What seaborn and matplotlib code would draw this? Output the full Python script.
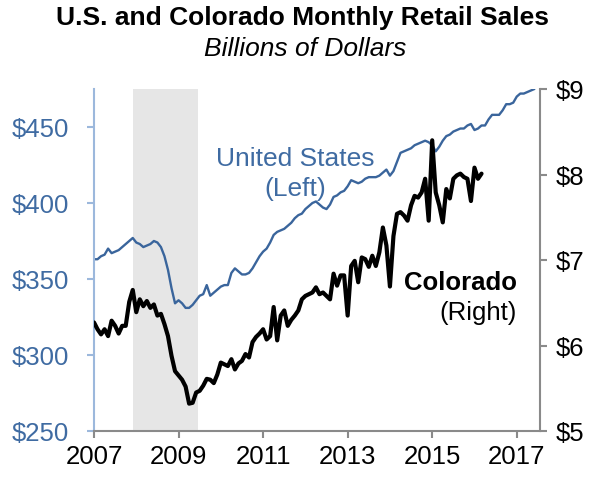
import numpy as np
import pandas as pd
import matplotlib
matplotlib.use("Agg")
import matplotlib.pyplot as plt
import seaborn as sns

sns.set_theme(style="white")
plt.rcParams['font.family'] = ['Liberation Sans', 'DejaVu Sans']
plt.rcParams['text.color'] = 'black'

# ---------------- data (monthly, starting Jan 2007) ----------------
us_sales = [
    363, 363, 365, 366, 370, 367, 368, 369, 371, 373, 375, 377,   # 2007
    374, 373, 371, 372, 373, 375, 374, 371, 365, 356, 344, 334,   # 2008
    336, 334, 331, 331, 333, 336, 339, 340, 346, 339, 341, 343,   # 2009
    345, 346, 346, 354, 357, 355, 353, 353, 354, 357, 361, 365,   # 2010
    368, 370, 374, 379, 381, 382, 383, 385, 387, 390, 392, 393,   # 2011
    396, 398, 400, 401, 399, 397, 396, 399, 404, 405, 407, 408,   # 2012
    411, 415, 414, 413, 414, 416, 417, 417, 417, 418, 420, 422,   # 2013
    418, 421, 427, 433, 434, 435, 436, 438, 439, 440, 441, 440,   # 2014
    438, 434, 437, 441, 444, 445, 447, 448, 449, 449, 451, 452,   # 2015
    448, 449, 451, 451, 455, 458, 458, 458, 461, 465, 465, 466,   # 2016
    470, 472, 472, 473, 474, 475,                                 # 2017
]
co_sales = [
    6.27, 6.19, 6.13, 6.19, 6.11, 6.29, 6.23, 6.14, 6.23, 6.23, 6.51, 6.65,  # 2007
    6.39, 6.54, 6.46, 6.52, 6.44, 6.48, 6.35, 6.37, 6.25, 6.11, 5.88, 5.70,  # 2008
    5.65, 5.60, 5.52, 5.32, 5.33, 5.45, 5.47, 5.53, 5.61, 5.60, 5.56, 5.66,  # 2009
    5.80, 5.78, 5.76, 5.84, 5.72, 5.79, 5.82, 5.90, 5.86, 6.04, 6.10, 6.14,  # 2010
    6.19, 6.07, 6.11, 6.45, 6.06, 6.35, 6.41, 6.23, 6.30, 6.35, 6.41, 6.54,  # 2011
    6.58, 6.60, 6.62, 6.68, 6.60, 6.62, 6.58, 6.54, 6.84, 6.70, 6.82, 6.82,  # 2012
    6.35, 6.93, 6.99, 6.74, 7.03, 7.01, 6.92, 7.05, 6.93, 7.09, 7.38, 7.17,  # 2013
    6.69, 7.28, 7.54, 7.56, 7.52, 7.46, 7.64, 7.75, 7.73, 7.79, 7.95, 7.46,  # 2014
    8.40, 7.79, 7.64, 7.44, 7.83, 7.72, 7.95, 7.99, 8.01, 7.97, 7.95, 7.69,  # 2015
    8.08, 7.95, 8.01,                                                        # 2016
]
start_year = 2007
recession = (2007 + 11 / 12, 2009 + 5.5 / 12)
x_ticks = [2007, 2009, 2011, 2013, 2015, 2017]
left_ticks = [250, 300, 350, 400, 450]
right_ticks = [5, 6, 7, 8, 9]

us_df = pd.DataFrame({"date": start_year + np.arange(len(us_sales)) / 12,
                      "sales": us_sales})
co_df = pd.DataFrame({"date": start_year + np.arange(len(co_sales)) / 12,
                      "sales": co_sales})

# ---------------- styling ----------------
BLUE = "#3a659c"
BLUE_TXT = "#3f6ba2"
BLUE_SPINE = "#9cb8dc"
GRAY = "#8a8a8a"
FS = 18.5

fig = plt.figure(figsize=(6.04, 4.81), dpi=100)
ax = fig.add_axes([94 / 604, 1 - 432 / 481, (540 - 94) / 604, (432 - 90) / 481])
ax2 = ax.twinx()

ax.axvspan(*recession, color="#e6e6e6", lw=0, zorder=0)

sns.lineplot(data=us_df, x="date", y="sales", ax=ax, color=BLUE, lw=1.7)
sns.lineplot(data=co_df, x="date", y="sales", ax=ax2, color="black", lw=3.0)

ax.set_xlim(2007, 2017.55)
ax.set_ylim(250, 475)
ax2.set_ylim(5, 9)
ax.set_xticks(x_ticks)
ax.set_xticklabels([str(t) for t in x_ticks], fontsize=FS, color="black")
ax.set_yticks(left_ticks)
ax.set_yticklabels([f"${t}" for t in left_ticks], fontsize=FS, color=BLUE_TXT)
ax2.set_yticks(right_ticks)
ax2.set_yticklabels([f"${t}" for t in right_ticks], fontsize=FS, color="black")
ax.set_xlabel("")
ax.set_ylabel("")
ax2.set_xlabel("")
ax2.set_ylabel("")

for a in (ax, ax2):
    a.spines["top"].set_visible(False)
    a.patch.set_visible(False)
ax.spines["right"].set_visible(False)
ax2.spines["left"].set_visible(False)
ax2.spines["bottom"].set_visible(False)
ax.spines["left"].set_color(BLUE_SPINE)
ax.spines["left"].set_linewidth(1.5)
ax.spines["bottom"].set_color(GRAY)
ax.spines["bottom"].set_linewidth(1.5)
ax2.spines["right"].set_color(GRAY)
ax2.spines["right"].set_linewidth(1.5)

ax.tick_params(axis="y", which="major", direction="out", length=5, width=1.5,
               color=BLUE_SPINE, left=True, pad=13)
ax.tick_params(axis="x", which="major", direction="out", length=5, width=1.5,
               color=GRAY, bottom=True, pad=4)
ax2.tick_params(axis="y", which="major", direction="out", length=5, width=1.5,
                color=GRAY, right=True, pad=6)
ax.grid(False)
ax2.grid(False)

# ---------------- text ----------------
fig.text(0.5, 1 - 18 / 481, "U.S. and Colorado Monthly Retail Sales",
         ha="center", va="center", fontsize=19, fontweight="bold")
fig.text(305 / 604, 1 - 49 / 481, "Billions of Dollars",
         ha="center", va="center", fontsize=19, fontstyle="italic")

fig.text(295 / 604, 1 - 159 / 481, "United States", ha="center", va="center",
         fontsize=19, color=BLUE_TXT)
fig.text(295 / 604, 1 - 189 / 481, "(Left)", ha="center", va="center",
         fontsize=19, color=BLUE_TXT)
fig.text(517 / 604, 1 - 283 / 481, "Colorado", ha="right", va="center",
         fontsize=18.5, fontweight="bold", color="black")
fig.text(517 / 604, 1 - 313 / 481, "(Right)", ha="right", va="center",
         fontsize=18.5, color="black")

fig.savefig("out.png", dpi=100)
